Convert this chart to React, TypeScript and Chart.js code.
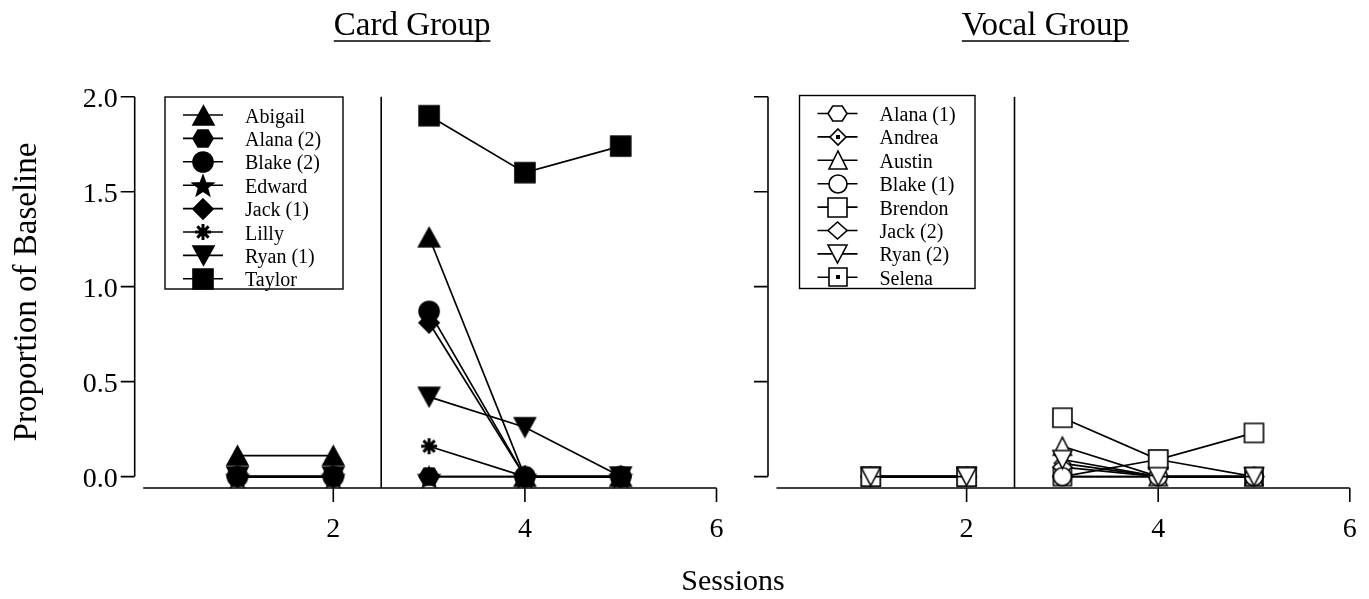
import React, { useEffect, useRef } from 'react';
import { Chart, registerables } from 'chart.js';

Chart.register(...registerables);

// ---------- DATA ----------
const sessions = [1, 2, 3, 4, 5];
const phaseChangeAfter = 2; // condition line between session 2 and 3
const xTicks = [2, 4, 6];
const yTicks = [0, 0.5, 1.0, 1.5, 2.0];
const yTickLabels = ['0.0', '0.5', '1.0', '1.5', '2.0'];

const cardTitle = 'Card Group';
const vocalTitle = 'Vocal Group';
const xTitle = 'Sessions';
const yTitle = 'Proportion of Baseline';

const cardNames = ['Abigail', 'Alana (2)', 'Blake (2)', 'Edward', 'Jack (1)', 'Lilly', 'Ryan (1)', 'Taylor'];
const abigail = [0.11, 0.11, 1.26, 0, 0];
const alana2 = [0, 0, 0, 0, 0];
const blake2 = [0, 0, 0.87, 0, 0];
const edward = [0, 0, 0, 0, 0];
const jack1 = [0, 0, 0.81, 0, 0];
const lilly = [0, 0, 0.16, 0, 0];
const ryan1 = [0, 0, 0.42, 0.26, 0];
const taylor = [null, null, 1.9, 1.6, 1.74];

const vocalNames = ['Alana (1)', 'Andrea', 'Austin', 'Blake (1)', 'Brendon', 'Jack (2)', 'Ryan (2)', 'Selena'];
const alana1 = [0, 0, 0, 0, 0];
const andrea = [0, 0, 0.07, 0, 0];
const austin = [0, 0, 0.16, 0, 0];
const blake1 = [0, 0, 0, 0, 0];
const brendon = [0, 0, 0.31, 0.09, 0.23];
const jack2 = [0, 0, 0.05, 0, 0];
const ryan2 = [0, 0, 0.09, 0, 0];
const selena = [0, 0, 0, 0.09, 0];

const cardSeries = [abigail, alana2, blake2, edward, jack1, lilly, ryan1, taylor];
const vocalSeries = [alana1, andrea, austin, blake1, brendon, jack2, ryan2, selena];

// ---------- STYLE ----------
const SERIF = '"Liberation Serif", "Times New Roman", serif';

// drawing order (0 = top-most)
const cardDrawOrder = [7, 6, 5, 4, 3, 2, 1, 0];
const vocalDrawOrder = [6, 4, 5, 2, 1, 3, 0, 7];

type MarkerSpec = { kind: string; filled: boolean; w: number; h: number };

const cardMarkers: MarkerSpec[] = [
  { kind: 'triangle', filled: true, w: 21, h: 19 },
  { kind: 'hexagon', filled: true, w: 20, h: 17 },
  { kind: 'circle', filled: true, w: 20, h: 20 },
  { kind: 'star', filled: true, w: 22, h: 22 },
  { kind: 'diamond', filled: true, w: 20, h: 20 },
  { kind: 'asterisk', filled: true, w: 16, h: 16 },
  { kind: 'triangleDown', filled: true, w: 21, h: 19 },
  { kind: 'square', filled: true, w: 20, h: 20 },
];

const vocalMarkers: MarkerSpec[] = [
  { kind: 'hexagon', filled: false, w: 19, h: 15 },
  { kind: 'diamondDot', filled: false, w: 16, h: 16 },
  { kind: 'triangle', filled: false, w: 18, h: 18 },
  { kind: 'circle', filled: false, w: 18, h: 18 },
  { kind: 'square', filled: false, w: 19, h: 19 },
  { kind: 'diamond', filled: false, w: 19, h: 17 },
  { kind: 'triangleDown', filled: false, w: 19, h: 18 },
  { kind: 'squareDot', filled: false, w: 18, h: 18 },
];

function makeMarker(m: MarkerSpec): HTMLCanvasElement {
  const pad = 2;
  const c = document.createElement('canvas');
  c.width = m.w + pad * 2;
  c.height = m.h + pad * 2;
  const ctx = c.getContext('2d') as CanvasRenderingContext2D;
  const cx = c.width / 2;
  const cy = c.height / 2;
  const hw = m.w / 2;
  const hh = m.h / 2;
  ctx.strokeStyle = '#000';
  ctx.fillStyle = m.filled ? '#000' : '#fff';
  ctx.lineWidth = 1.6;
  ctx.lineJoin = 'miter';
  ctx.beginPath();
  switch (m.kind) {
    case 'triangle':
      ctx.moveTo(cx, cy - hh);
      ctx.lineTo(cx + hw, cy + hh);
      ctx.lineTo(cx - hw, cy + hh);
      ctx.closePath();
      break;
    case 'triangleDown':
      ctx.moveTo(cx, cy + hh);
      ctx.lineTo(cx + hw, cy - hh);
      ctx.lineTo(cx - hw, cy - hh);
      ctx.closePath();
      break;
    case 'hexagon':
      ctx.moveTo(cx - hw, cy);
      ctx.lineTo(cx - hw / 2, cy - hh);
      ctx.lineTo(cx + hw / 2, cy - hh);
      ctx.lineTo(cx + hw, cy);
      ctx.lineTo(cx + hw / 2, cy + hh);
      ctx.lineTo(cx - hw / 2, cy + hh);
      ctx.closePath();
      break;
    case 'circle':
      ctx.ellipse(cx, cy, hw, hh, 0, 0, Math.PI * 2);
      break;
    case 'square':
    case 'squareDot':
      ctx.rect(cx - hw, cy - hh, m.w, m.h);
      break;
    case 'diamond':
    case 'diamondDot':
      ctx.moveTo(cx, cy - hh);
      ctx.lineTo(cx + hw, cy);
      ctx.lineTo(cx, cy + hh);
      ctx.lineTo(cx - hw, cy);
      ctx.closePath();
      break;
    case 'star': {
      const R = hw;
      const r = R * 0.42;
      for (let i = 0; i < 10; i++) {
        const a = -Math.PI / 2 + (i * Math.PI) / 5;
        const rad = i % 2 === 0 ? R : r;
        const px = cx + Math.cos(a) * rad;
        const py = cy + 1.5 + Math.sin(a) * rad;
        if (i === 0) ctx.moveTo(px, py);
        else ctx.lineTo(px, py);
      }
      ctx.closePath();
      break;
    }
    case 'asterisk':
      break;
  }
  if (m.kind === 'asterisk') {
    ctx.lineWidth = 3;
    ctx.lineCap = 'butt';
    ctx.beginPath();
    for (let i = 0; i < 4; i++) {
      const a = (i * Math.PI) / 4;
      ctx.moveTo(cx - Math.cos(a) * hw, cy - Math.sin(a) * hh);
      ctx.lineTo(cx + Math.cos(a) * hw, cy + Math.sin(a) * hh);
    }
    ctx.stroke();
  } else {
    ctx.fill();
    ctx.stroke();
  }
  if (m.kind === 'squareDot' || m.kind === 'diamondDot') {
    ctx.fillStyle = '#000';
    ctx.fillRect(cx - 2, cy - 2, 4, 4);
  }
  return c;
}

function toPoints(vals: (number | null)[]) {
  const pts: { x: number; y: number | null }[] = [];
  sessions.forEach((s, i) => {
    pts.push({ x: s, y: vals[i] });
    if (s === phaseChangeAfter) pts.push({ x: s + 0.5, y: null });
  });
  return pts;
}

type PanelOpts = {
  title: string;
  showYLabels: boolean;
  showTitles: boolean;
  legendBox: { x: number; y: number; w: number; h: number };
  names: string[];
  markers: HTMLCanvasElement[];
};

const panelPlugin = {
  id: 'panel',
  beforeDatasetsDraw(chart: any, _a: any, opts: PanelOpts) {
    const ctx = chart.ctx as CanvasRenderingContext2D;
    const xs = chart.scales.x;
    const ys = chart.scales.y;
    const y0 = ys.getPixelForValue(0);
    const yTop = ys.getPixelForValue(2);
    const axisY = chart.chartArea.bottom;
    const axX = xs.getPixelForValue(0) - 7;
    ctx.save();
    ctx.strokeStyle = '#000';
    ctx.fillStyle = '#000';
    ctx.lineWidth = 1.6;
    ctx.beginPath();
    // y axis
    ctx.moveTo(axX, yTop);
    ctx.lineTo(axX, y0);
    yTicks.forEach((t) => {
      const py = ys.getPixelForValue(t);
      ctx.moveTo(axX - 14, py);
      ctx.lineTo(axX, py);
    });
    // x axis
    ctx.moveTo(xs.getPixelForValue(0) + 1.5, axisY);
    ctx.lineTo(xs.getPixelForValue(6), axisY);
    xTicks.forEach((t) => {
      const px = xs.getPixelForValue(t);
      ctx.moveTo(px, axisY);
      ctx.lineTo(px, axisY + 14);
    });
    // phase change line
    const pcx = xs.getPixelForValue(phaseChangeAfter + 0.5);
    ctx.moveTo(pcx, yTop);
    ctx.lineTo(pcx, axisY);
    ctx.stroke();

    // tick labels
    ctx.font = `28px ${SERIF}`;
    ctx.textBaseline = 'alphabetic';
    ctx.textAlign = 'center';
    xTicks.forEach((t) => {
      ctx.fillText(String(t), xs.getPixelForValue(t), axisY + 49);
    });
    if (opts.showYLabels) {
      ctx.textAlign = 'right';
      yTicks.forEach((t, i) => {
        ctx.fillText(yTickLabels[i], axX - 17, ys.getPixelForValue(t) + 10);
      });
    }
    ctx.restore();
  },
  afterDraw(chart: any, _a: any, opts: PanelOpts) {
    const ctx = chart.ctx as CanvasRenderingContext2D;
    const xs = chart.scales.x;
    ctx.save();
    ctx.strokeStyle = '#000';
    ctx.fillStyle = '#000';

    // panel title (underlined)
    ctx.font = `33px ${SERIF}`;
    ctx.textAlign = 'center';
    ctx.textBaseline = 'alphabetic';
    const tcx = (xs.getPixelForValue(0) + xs.getPixelForValue(6)) / 2 - 17;
    ctx.fillText(opts.title, tcx, 35);
    const tw = ctx.measureText(opts.title).width;
    ctx.lineWidth = 1.6;
    ctx.beginPath();
    ctx.moveTo(tcx - tw / 2, 41);
    ctx.lineTo(tcx + tw / 2, 41);
    ctx.stroke();

    // shared axis titles
    if (opts.showTitles) {
      ctx.font = `30px ${SERIF}`;
      ctx.textAlign = 'center';
      ctx.fillText(xTitle, 733, 590);
      ctx.save();
      ctx.translate(36, 292);
      ctx.rotate(-Math.PI / 2);
      ctx.font = `33px ${SERIF}`;
      ctx.fillText(yTitle, 0, 0);
      ctx.restore();
    }

    // legend
    const b = opts.legendBox;
    ctx.lineWidth = 1.4;
    ctx.strokeRect(b.x, b.y, b.w, b.h);
    ctx.font = `20px ${SERIF}`;
    ctx.textAlign = 'left';
    opts.names.forEach((name, i) => {
      const ry = b.y + 18 + i * 23.4;
      const mx = b.x + 38;
      ctx.lineWidth = 1.6;
      ctx.beginPath();
      ctx.moveTo(mx - 20, ry);
      ctx.lineTo(mx + 20, ry);
      ctx.stroke();
      const mk = opts.markers[i];
      ctx.drawImage(mk, Math.round(mx - mk.width / 2), Math.round(ry - mk.height / 2));
      ctx.fillText(name, b.x + 80, ry + 7.5);
    });
    ctx.restore();
  },
};

function makeConfig(side: 'left' | 'right'): any {
  const isLeft = side === 'left';
  const names = isLeft ? cardNames : vocalNames;
  const series = isLeft ? cardSeries : vocalSeries;
  const drawOrder = isLeft ? cardDrawOrder : vocalDrawOrder;
  const markerCanvases = (isLeft ? cardMarkers : vocalMarkers).map(makeMarker);
  const datasets = names.map((n, i) => ({
    label: n,
    data: toPoints(series[i]),
    borderColor: '#000',
    borderWidth: 1.7,
    pointStyle: markerCanvases[i],
    pointRadius: 10,
    pointHoverRadius: 10,
    fill: false,
    tension: 0,
    spanGaps: false,
    clip: false,
    order: drawOrder[i],
  }));
  const padLeft = isLeft ? 141.7 : 775;
  const padRight = isLeft ? 1369 - 716.5 : 1369 - 1349.8;
  return {
    type: 'line',
    data: { datasets },
    options: {
      responsive: false,
      animation: false,
      devicePixelRatio: 1,
      events: [],
      layout: { padding: { left: padLeft, right: padRight, top: 96.7, bottom: 599 - 488 } },
      scales: {
        x: { type: 'linear', min: 0, max: 6, display: false },
        y: { type: 'linear', min: -0.06, max: 2.0, display: false },
      },
      plugins: {
        legend: { display: false },
        tooltip: { enabled: false },
        title: { display: false },
        panel: {
          title: isLeft ? cardTitle : vocalTitle,
          showYLabels: isLeft,
          showTitles: isLeft,
          legendBox: isLeft ? { x: 165, y: 97, w: 178, h: 192 } : { x: 799.5, y: 95.5, w: 175.5, h: 193 },
          names,
          markers: markerCanvases,
        },
      },
    },
    plugins: [panelPlugin],
  };
}

export default function App() {
  const leftRef = useRef<HTMLCanvasElement>(null);
  const rightRef = useRef<HTMLCanvasElement>(null);
  useEffect(() => {
    const c1 = new Chart(leftRef.current as HTMLCanvasElement, makeConfig('left'));
    const c2 = new Chart(rightRef.current as HTMLCanvasElement, makeConfig('right'));
    return () => {
      c1.destroy();
      c2.destroy();
    };
  }, []);
  const cs: React.CSSProperties = { position: 'absolute', left: 0, top: 0, width: 1369, height: 599 };
  return (
    <div style={{ position: 'fixed', left: 0, top: 0, width: 1369, height: 599, background: '#fff' }}>
      <canvas ref={leftRef} width={1369} height={599} style={cs} />
      <canvas ref={rightRef} width={1369} height={599} style={cs} />
    </div>
  );
}
